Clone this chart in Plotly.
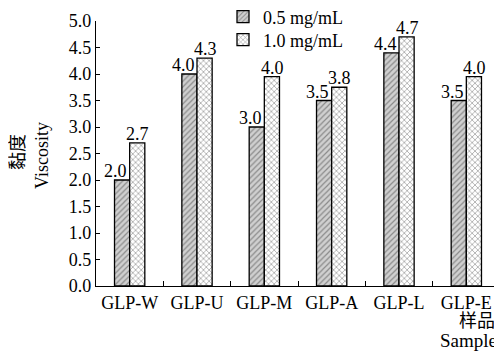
import plotly.graph_objects as go

categories = ["GLP-W", "GLP-U", "GLP-M", "GLP-A", "GLP-L", "GLP-E"]
series_names = ["0.5 mg/mL", "1.0 mg/mL"]
vals_05 = [2.0, 4.0, 3.0, 3.5, 4.4, 3.5]
vals_10 = [2.7, 4.3, 3.95, 3.75, 4.7, 3.95]
labels_05 = ["2.0", "4.0", "3.0", "3.5", "4.4", "3.5"]
labels_10 = ["2.7", "4.3", "4.0", "3.8", "4.7", "4.0"]
y_ticks = [0.0, 0.5, 1.0, 1.5, 2.0, 2.5, 3.0, 3.5, 4.0, 4.5, 5.0]

FONT = '"Liberation Serif", "Noto Sans CJK SC", serif'
FS = 18

# page has an 8px body margin; figure sized so plot area lands where the reference has it
W, H = 494, 353
ML, MR, MT, MB = 88, 2, 13, 75
PW, PH = W - ML - MR, H - MT - MB


def px_x(px):
    return (px - 8 - ML) / PW


def px_y(py):
    return (H - MB - (py - 8)) / PH


fig = go.Figure()
fig.add_trace(go.Bar(
    x=categories, y=vals_05, name=series_names[0], legend="legend",
    marker=dict(color="#d0d0d0", line=dict(color="black", width=1.3),
                pattern=dict(shape="/", fgcolor="#444444", bgcolor="#d0d0d0", size=4, solidity=0.3)),
))
fig.add_trace(go.Bar(
    x=categories, y=vals_10, name=series_names[1], legend="legend2",
    marker=dict(color="white", line=dict(color="black", width=1.3),
                pattern=dict(shape="x", fgcolor="#222222", bgcolor="white", size=4, solidity=0.3)),
))

annotations = []
for c, v, t in zip(categories, vals_05, labels_05):
    annotations.append(dict(x=c, y=v, text=t, xref="x", yref="y", showarrow=False,
                            xanchor="center", yanchor="bottom", xshift=-14, yshift=-3,
                            font=dict(family=FONT, size=FS, color="black")))
for c, v, t in zip(categories, vals_10, labels_10):
    annotations.append(dict(x=c, y=v, text=t, xref="x", yref="y", showarrow=False,
                            xanchor="center", yanchor="bottom", xshift=8, yshift=-3,
                            font=dict(family=FONT, size=FS, color="black")))
annotations.append(dict(x=px_x(497), y=px_y(309), xref="paper", yref="paper", text="样品",
                        showarrow=False, xanchor="right", yanchor="top",
                        font=dict(family=FONT, size=FS, color="black")))
annotations.append(dict(x=px_x(499), y=px_y(328), xref="paper", yref="paper", text="Sample",
                        showarrow=False, xanchor="right", yanchor="top",
                        font=dict(family=FONT, size=19, color="black")))
annotations.append(dict(x=px_x(18), y=px_y(152), xref="paper", yref="paper", text="黏度",
                        showarrow=False, xanchor="center", yanchor="middle", textangle=-90,
                        font=dict(family=FONT, size=FS, color="black")))
annotations.append(dict(x=px_x(42), y=px_y(156), xref="paper", yref="paper", text="Viscosity",
                        showarrow=False, xanchor="center", yanchor="middle", textangle=-90,
                        font=dict(family=FONT, size=FS, color="black")))

leg_common = dict(xanchor="left", yanchor="middle", bgcolor="rgba(0,0,0,0)",
                  font=dict(family=FONT, size=FS), itemwidth=30)

fig.update_layout(
    width=W, height=H,
    margin=dict(l=ML, r=MR, t=MT, b=MB, autoexpand=False),
    paper_bgcolor="white", plot_bgcolor="white",
    font=dict(family=FONT, size=FS, color="black"),
    barmode="group", bargap=0.55, bargroupgap=0,
    showlegend=True,
    legend=dict(x=px_x(223), y=px_y(17), **leg_common),
    legend2=dict(x=px_x(223), y=px_y(40), **leg_common),
    xaxis=dict(showline=True, linecolor="black", linewidth=1.3, ticks="inside", ticklen=5,
               tickcolor="black", tickson="boundaries", showgrid=False, zeroline=False,
               tickangle=0, tickfont=dict(family=FONT, size=FS)),
    yaxis=dict(range=[0, 5], tickvals=y_ticks, ticktext=[f"{v:.1f}" for v in y_ticks],
               showline=True, linecolor="black", linewidth=1.3, ticks="inside", ticklen=4,
               tickcolor="black", showgrid=False, zeroline=False,
               tickfont=dict(family=FONT, size=FS)),
    annotations=annotations,
)

fig.write_html("out.html")
